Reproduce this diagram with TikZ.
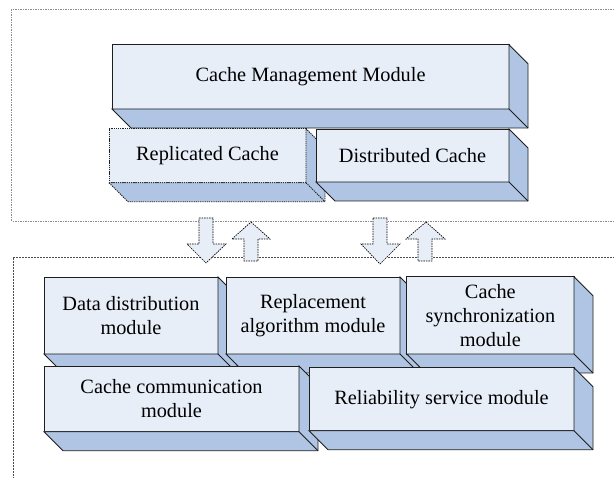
\documentclass[tikz,border=0pt]{standalone}
\usepackage{fontspec}
\setmainfont{Liberation Serif}
\usetikzlibrary{calc}

\definecolor{facefill}{RGB}{232,238,248}
\definecolor{sidefill}{RGB}{176,197,228}
\definecolor{edgecol}{RGB}{30,30,30}

\tikzset{
  modulebox/.style={draw=edgecol, fill=facefill, line width=0.8pt,
    anchor=north west, inner sep=2pt, outer sep=0pt, align=center,
    text=black, font=\rmfamily\fontsize{20.3pt}{24pt}\selectfont},
  sideface/.style={draw=edgecol, fill=sidefill, line width=0.8pt, line join=miter},
  dottededge/.style={dash pattern=on 1.3pt off 0.9pt},
  outerframe/.style={draw=black!45, line width=0.6pt, dash pattern=on 1.5pt off 1pt},
  innerframe/.style={draw=black!70, line width=0.6pt, dash pattern=on 2pt off 1pt},
  blockarrow/.style={draw=black, fill=facefill, line width=0.7pt,
    dash pattern=on 1.5pt off 1pt, line join=miter},
}

% extruded bottom and right faces of a module box
\newcommand\boxdepth[2][]{%
  \filldraw[sideface,#1] (#2.south west) -- ($(#2.south west)+(19,19)$)
    -- ($(#2.south east)+(19,19)$) -- ($(#2.north east)+(19,19)$)
    -- (#2.north east) -- (#2.south east) -- cycle;
  \draw[sideface,fill=none,#1] (#2.south east) -- ($(#2.south east)+(19,19)$);
}

\begin{document}
\begin{tikzpicture}[x=1pt,y=-1pt]
\useasboundingbox (0,0) rectangle (614,478);
\clip (0,0) rectangle (614,478);

% layer frames
\draw[outerframe] (11.7,9.3) rectangle (640,221);
\draw[innerframe] (13,257.7) rectangle (640,500);

% upper layer
\node[modulebox, minimum width=397pt, minimum height=64.3pt] (cmm) at (112,44.7)
  {Cache Management Module};
\boxdepth{cmm}

\node[modulebox, dottededge, minimum width=197pt, minimum height=54pt] (repl) at (109,128.7)
  {Replicated Cache};
\boxdepth[dottededge]{repl}

\node[modulebox, minimum width=193pt, minimum height=53pt] (dist) at (316,129)
  {Distributed Cache};
\boxdepth{dist}

% lower layer, first row
\node[modulebox, minimum width=174pt, minimum height=77pt] (datad) at (44,277)
  {Data distribution\\module};
\boxdepth{datad}

\node[modulebox, minimum width=174pt, minimum height=77pt] (repa) at (226,277)
  {Replacement\\algorithm module};
\boxdepth{repa}

\node[modulebox, minimum width=167.3pt, minimum height=77.3pt] (sync) at (406.7,276.7)
  {Cache\\synchronization\\module};
\boxdepth{sync}

% lower layer, second row
\node[modulebox, minimum width=255pt, minimum height=65.7pt] (comm) at (44,366)
  {Cache communication\\module};
\boxdepth{comm}

\node[modulebox, minimum width=265pt, minimum height=63pt] (rel) at (309,367.7)
  {Reliability service module};
\boxdepth{rel}

% block arrows between the layers
\filldraw[blockarrow] (199,218) -- (213,218) -- (213,244) -- (226,244) -- (206,263)
  -- (187,244) -- (199,244) -- cycle;
\filldraw[blockarrow] (251,222) -- (270,239) -- (258,239) -- (258,261) -- (244,261)
  -- (244,239) -- (232,239) -- cycle;
\filldraw[blockarrow] (373,218) -- (387,218) -- (387,244) -- (400,244) -- (380,264)
  -- (361,244) -- (373,244) -- cycle;
\filldraw[blockarrow] (426,222) -- (445,239) -- (432,239) -- (432,261) -- (418,261)
  -- (418,239) -- (406,239) -- cycle;
\end{tikzpicture}
\end{document}
